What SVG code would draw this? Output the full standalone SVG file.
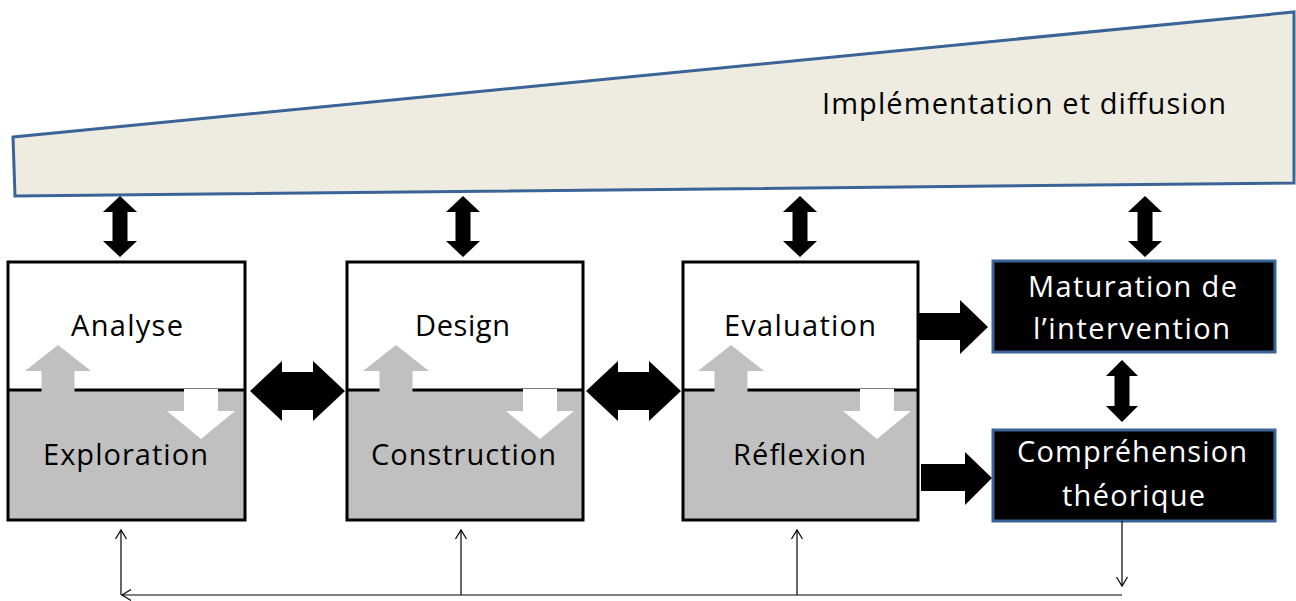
<svg xmlns="http://www.w3.org/2000/svg" xmlns:xlink="http://www.w3.org/1999/xlink" width="1296" height="601" viewBox="0 0 1296 601">
<style>
.t{font-family:"Open Sans","DejaVu Sans",sans-serif;font-size:29px;fill:#000;}
.w{fill:#fff;}
.box{fill:none;stroke:#000;stroke-width:3;}
.dark{fill:#000;stroke:#3b6496;stroke-width:3;}
.thin{fill:none;stroke:#000;stroke-width:1.2;}
.bl{fill:#000;}
</style>
<defs>
<marker id="open" markerUnits="userSpaceOnUse" markerWidth="14" markerHeight="14" viewBox="-10 -7 14 14" refX="0" refY="0" orient="auto">
<polyline points="-9,-5.5 0,0 -9,5.5" fill="none" stroke="#000" stroke-width="1.2"/>
</marker>
<path id="vda" d="M0,0 L17,16 L7.5,16 L7.5,45 L17,45 L0,61 L-17,45 L-7.5,45 L-7.5,16 L-17,16 Z"/>
<path id="hda" d="M0,0 L32,-30 L32,-19 L63,-19 L63,-30 L95,0 L63,30 L63,19 L32,19 L32,30 Z"/>
<path id="up" d="M0,0 L33,26 L16.5,26 L16.5,47 L-16.5,47 L-16.5,26 L-33,26 Z" fill="#c0c0c0"/>
<path id="down" d="M-17,0 L17,0 L17,22 L34,22 L0,50 L-34,22 L-17,22 Z" fill="#fff"/>
</defs>

<g id="banner">
<polygon points="13,137 1294,12 1294,183 15,196" fill="#eeece1" stroke="#3b6496" stroke-width="3"/>
<text class="t" x="822" y="114" textLength="404">Implémentation et diffusion</text>
</g>

<g id="analyse">
<rect x="8" y="262" width="237" height="129" fill="#fff"/>
<rect x="8" y="391" width="237" height="129" fill="#c0c0c0"/>
<line x1="8" y1="390" x2="245" y2="390" stroke="#000" stroke-width="3"/>
<use xlink:href="#up" x="58" y="345"/>
<use xlink:href="#down" x="201" y="389"/>
<rect class="box" x="8" y="262" width="237" height="258"/>
<text class="t" x="71" y="336" textLength="112">Analyse</text>
<text class="t" x="43" y="465" textLength="165">Exploration</text>
</g>

<g id="design">
<rect x="347" y="262" width="236" height="129" fill="#fff"/>
<rect x="347" y="391" width="236" height="129" fill="#c0c0c0"/>
<line x1="347" y1="390" x2="583" y2="390" stroke="#000" stroke-width="3"/>
<use xlink:href="#up" x="396" y="345"/>
<use xlink:href="#down" x="540" y="389"/>
<rect class="box" x="347" y="262" width="236" height="258"/>
<text class="t" x="415" y="336" textLength="95">Design</text>
<text class="t" x="371" y="465" textLength="185">Construction</text>
</g>

<g id="evaluation">
<rect x="683" y="262" width="235" height="129" fill="#fff"/>
<rect x="683" y="391" width="235" height="129" fill="#c0c0c0"/>
<line x1="683" y1="390" x2="918" y2="390" stroke="#000" stroke-width="3"/>
<use xlink:href="#up" x="731" y="345"/>
<use xlink:href="#down" x="877" y="389"/>
<rect class="box" x="683" y="262" width="235" height="258"/>
<text class="t" x="724" y="336" textLength="152">Evaluation</text>
<text class="t" x="733" y="465" textLength="133">Réflexion</text>
</g>

<g id="maturation">
<rect class="dark" x="993" y="261" width="282" height="91"/>
<text class="t w" x="1028" y="297" textLength="209">Maturation de</text>
<text class="t w" x="1033" y="339" textLength="197">l’intervention</text>
</g>

<g id="comprehension">
<rect class="dark" x="993" y="430" width="282" height="91"/>
<text class="t w" x="1017" y="462" textLength="230">Compréhension</text>
<text class="t w" x="1062" y="506" textLength="143">théorique</text>
</g>

<g id="connectors">
<use class="bl" xlink:href="#vda" x="120" y="196"/>
<use class="bl" xlink:href="#vda" x="463" y="196"/>
<use class="bl" xlink:href="#vda" x="800" y="196"/>
<use class="bl" xlink:href="#vda" x="1145" y="196"/>
<path class="bl" d="M1106,376 L1122,360 L1138,376 L1129.5,376 L1129.5,406 L1138,406 L1122,422 L1106,406 L1114.5,406 L1114.5,376 L1106,376 Z"/>
<use class="bl" xlink:href="#hda" x="250" y="391"/>
<use class="bl" xlink:href="#hda" x="586" y="391"/>
<path class="bl" d="M918,313 L960,313 L960,300 L988,327 L960,354 L960,340 L918,340 Z"/>
<path class="bl" d="M921,464 L965,464 L965,452 L992,478 L965,505 L965,491 L921,491 Z"/>
<path class="thin" d="M1122,521 L1122,586" marker-end="url(#open)"/>
<path class="thin" d="M1122,595 L122,595" marker-end="url(#open)"/>
<path class="thin" d="M121,595 L121,530" marker-end="url(#open)"/>
<path class="thin" d="M461,595 L461,530" marker-end="url(#open)"/>
<path class="thin" d="M797,595 L797,530" marker-end="url(#open)"/>
</g>
</svg>
